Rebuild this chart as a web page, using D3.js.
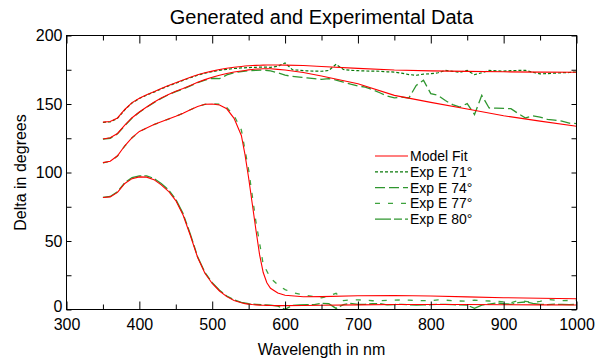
<!DOCTYPE html>
<html>
<head>
<meta charset="utf-8">
<script src="https://cdn.jsdelivr.net/npm/d3@7"></script>
<style>
  body { margin: 0; background: #fff; }
  svg { font-family: "Liberation Sans", Arial, sans-serif; }
</style>
</head>
<body>
<svg id="chart" width="601" height="363"></svg>
<script>
// wavelength grid of the model fit curves (nm)
const modelNm = [350, 360, 370, 380, 390, 400, 410, 420, 430, 440, 450, 460, 470, 480, 490, 500,
  510, 520, 530, 540, 545, 550, 555, 560, 565, 570, 575, 580, 590, 600, 625, 650, 700, 750,
  800, 850, 900, 950, 1000];

const fit71 = [136.8, 137.2, 139.8, 146, 151, 154.2, 156.8, 159, 161.3, 163.5, 165.5, 167.5, 169.5,
  171.3, 172.8, 174, 175.2, 176.1, 176.8, 177.4, 177.7, 177.9, 178.1, 178.2, 178.3, 178.4, 178.5,
  178.5, 178.5, 178.4, 178.1, 177.4, 176, 174.8, 174.2, 173.8, 173.5, 173.3, 173.2];
const fit74 = [124.5, 125.3, 128.5, 134.5, 140, 144.2, 147.8, 151.3, 154.3, 157, 159.3, 161.3, 163.5,
  165.8, 167.8, 169.5, 171, 172.2, 173.3, 174.1, 174.5, 174.9, 175.2, 175.5, 175.6, 175.7, 175.7,
  175.7, 175.3, 174.8, 173, 170.5, 164.8, 156.3, 151.2, 146.3, 141.4, 137.5, 133.8];
const fit77 = [107.2, 108.2, 112.2, 119.5, 125.5, 130, 132.5, 135, 137, 139, 141, 143.3, 145.8,
  148.2, 149.8, 150, 149.3, 146.5, 139.5, 127, 113, 96, 77, 58, 40, 27, 19.5, 15.5, 12, 10.4,
  9.3, 9.4, 10, 10.2, 9.8, 9.2, 8.6, 8.2, 7.9];
const fit80 = [81.8, 82.2, 85.5, 92, 95.5, 96.8, 96.6, 94.8, 91, 86.3, 79.5, 69, 54, 38, 26.5, 19,
  13.5, 9.4, 6.6, 4.9, 4.3, 3.9, 3.6, 3.4, 3.2, 3.1, 3, 2.9, 2.8, 2.8, 2.9, 3.1, 3.4, 3.6, 3.7,
  3.6, 3.5, 3.4, 3.3];

// wavelength grid of the measured data (nm), every 10 nm
const expNm = [350, 360, 370, 380, 390, 400, 410, 420, 430, 440, 450, 460, 470, 480, 490, 500,
  510, 520, 530, 540, 550, 560, 570, 580, 590, 600, 610, 620, 630, 640, 650, 660, 670, 680, 690,
  700, 710, 720, 730, 740, 750, 760, 770, 780, 790, 800, 810, 820, 830, 840, 850, 860, 870, 880,
  890, 900, 910, 920, 930, 940, 950, 960, 970, 980, 990, 1000];

const exp71 = [136.5, 137, 139.5, 145.8, 150.8, 154, 156.5, 158.7, 161, 163.2, 165.2, 167.2, 169.2,
  171, 172.5, 173.6, 174.6, 175.3, 175.9, 176.3, 176.6, 176.8, 177, 176.8, 177.5, 180, 175,
  174.6, 174.2, 174, 173.9, 174.5, 179, 175.2, 174.6, 174.3, 174.1, 174, 173.9, 173.5, 173.3,
  172.5, 171.5, 171, 171.8, 172.1, 172.8, 174.5, 173.8, 173.2, 174.5, 171.4, 172.8, 174.5,
  174.2, 174, 174.3, 174.5, 174.5, 173.2, 172, 172.2, 172.5, 172.8, 173, 173.4];
const exp74 = [124.3, 125, 128.2, 134.2, 139.8, 144, 147.6, 151, 154, 156.8, 159, 161, 163.2, 165.5,
  167.5, 168.8, 168.5, 171.2, 172.8, 173.7, 174.3, 174.6, 174.8, 174.2, 172.8, 171, 170.2, 169.6,
  169, 168.5, 168, 168.5, 167.5, 166, 164.5, 163.2, 162.3, 160.5, 158.2, 155.8, 154.5, 155, 154.4,
  163.6, 167.3, 157.6, 156.3, 152.5, 149.5, 147.8, 150.3, 142.3, 156.3, 147.1, 147, 146.8, 146.6,
  143, 139.8, 141.3, 140.5, 138.8, 138.3, 137.5, 136, 135.7];
const exp77 = [107, 108, 112, 119.3, 125.3, 129.8, 132.5, 135, 137, 139, 141, 143.3, 145.8, 148.2,
  149.8, 150.2, 149.8, 147.5, 141.5, 131, 102, 64, 33, 23, 18, 14.5, 12.5, 11.2, 10.2, 9.5, 8.5,
  10, 11.8, 6.5, 7, 7, 6.8, 6.4, 6.4, 6.6, 6.8, 7, 6.8, 6.5, 6.5, 6.5, 7, 6.8, 6.5, 6.2, 6, 6.8,
  6.5, 6.2, 6, 5.5, 5, 6.5, 6, 5, 6, 7.3, 6.8, 6.5, 6.6, 6.8];
const exp80 = [81.8, 82.5, 86, 92.5, 96.3, 97.6, 97.5, 95.7, 92, 87.3, 80.5, 70, 55, 38.5, 27, 19.5,
  14, 9.8, 7, 5.2, 4.2, 3.8, 3.4, 3.2, 2.5, 0.2, 3, 3.3, 3.5, 3.6, 4.5, 4.2, 0.8, 3.6, 4.4, 3.8,
  3.8, 4.2, 4.4, 3.4, 3.6, 3.8, 3.5, 3.3, 3.4, 3.5, 3.7, 3.7, 3.5, 3.4, 3.2, 0.8, 3.2, 4, 4.8,
  4.2, 3.8, 5, 5.5, 4.5, 3.8, 3.6, 3.9, 3.7, 3.6, 3.7];

const legendLabels = ["Model Fit", "Exp E 71°", "Exp E 74°", "Exp E 77°", "Exp E 80°"];

const svg = d3.select("#chart");
const mLeft = 66.5, mRight = 576.5, mTop = 35.5, mBottom = 309.5;

const x = d3.scaleLinear().domain([300, 1000]).range([mLeft, mRight]);
const y = d3.scaleLinear().domain([0, 200]).range([mBottom, mTop]);

const styles = {
  fit: { color: "#ff0000", dash: null, width: 1.1 },
  e71: { color: "#0a7a0a", dash: "3,2", width: 1.2 },
  e74: { color: "#2f962f", dash: "10,4", width: 1.3 },
  e77: { color: "#3ea33e", dash: "5,8", width: 1.3 },
  e80: { color: "#2f962f", dash: "16,3,8,3", width: 1.3 }
};

const line = d3.line().x(d => x(d[0])).y(d => y(d[1]));

function draw(nm, vals, st) {
  svg.append("path")
    .datum(nm.map((n, i) => [n, vals[i]]))
    .attr("d", line)
    .attr("fill", "none")
    .attr("stroke", st.color)
    .attr("stroke-width", st.width)
    .attr("stroke-dasharray", st.dash);
}

// measured data first, model fit over it
draw(expNm, exp71, styles.e71);
draw(expNm, exp74, styles.e74);
draw(expNm, exp77, styles.e77);
draw(expNm, exp80, styles.e80);
draw(modelNm, fit71, styles.fit);
draw(modelNm, fit74, styles.fit);
draw(modelNm, fit77, styles.fit);
draw(modelNm, fit80, styles.fit);

// axes, ticks pointing inwards on all four sides
function axis(g, ax) {
  g.call(ax);
  g.select(".domain").remove();
  g.selectAll("text").attr("font-size", 16).attr("fill", "#000").attr("font-family", null);
}
const major = d3.range(300, 1001, 100), minor = d3.range(350, 1000, 100);
svg.append("g").attr("transform", `translate(0,${mBottom})`)
  .call(axis, d3.axisBottom(x).tickValues(major).tickSize(-8).tickPadding(9).tickFormat(d3.format("d")));
svg.append("g").attr("transform", `translate(0,${mBottom})`)
  .call(axis, d3.axisBottom(x).tickValues(minor).tickSize(-5).tickFormat(""));
svg.append("g").attr("transform", `translate(0,${mTop})`)
  .call(axis, d3.axisTop(x).tickValues(major).tickSize(-8).tickFormat(""));
svg.append("g").attr("transform", `translate(0,${mTop})`)
  .call(axis, d3.axisTop(x).tickValues(minor).tickSize(-5).tickFormat(""));
const yAxis = svg.append("g").attr("transform", `translate(${mLeft},0)`)
  .call(axis, d3.axisLeft(y).tickValues(d3.range(0, 201, 25)).tickSize(-5).tickPadding(4)
    .tickFormat(d => d % 50 === 0 ? d : ""));
// the zero label sits a little above the axis line, as in the original
yAxis.selectAll(".tick text").filter(d => d === 0).attr("dy", "0.15em");
svg.append("g").attr("transform", `translate(${mRight},0)`)
  .call(axis, d3.axisRight(y).tickValues(d3.range(0, 201, 25)).tickSize(-5).tickFormat(""));

svg.append("rect")
  .attr("x", mLeft).attr("y", mTop)
  .attr("width", mRight - mLeft).attr("height", mBottom - mTop)
  .attr("fill", "none").attr("stroke", "#000").attr("stroke-width", 1);

// titles
svg.append("text").attr("x", (mLeft + mRight) / 2).attr("y", 24)
  .attr("text-anchor", "middle").attr("font-size", 20)
  .text("Generated and Experimental Data");
svg.append("text").attr("x", (mLeft + mRight) / 2).attr("y", 355)
  .attr("text-anchor", "middle").attr("font-size", 16)
  .text("Wavelength in nm");
svg.append("text")
  .attr("transform", `translate(26,${(mTop + mBottom) / 2}) rotate(-90)`)
  .attr("text-anchor", "middle").attr("font-size", 16)
  .text("Delta in degrees");

// legend
const legendStyles = [styles.fit, styles.e71, styles.e74, styles.e77, styles.e80];
const lg = svg.append("g").attr("transform", "translate(375,156)");
legendLabels.forEach((lab, i) => {
  const st = legendStyles[i];
  const row = lg.append("g").attr("transform", `translate(0,${i * 15.8})`);
  row.append("line").attr("x1", 0).attr("x2", 33).attr("y1", 0).attr("y2", 0)
    .attr("stroke", st.color).attr("stroke-width", st.width).attr("stroke-dasharray", st.dash);
  row.append("text").attr("x", 35).attr("y", 5).attr("font-size", 14).text(lab);
});
</script>
</body>
</html>
